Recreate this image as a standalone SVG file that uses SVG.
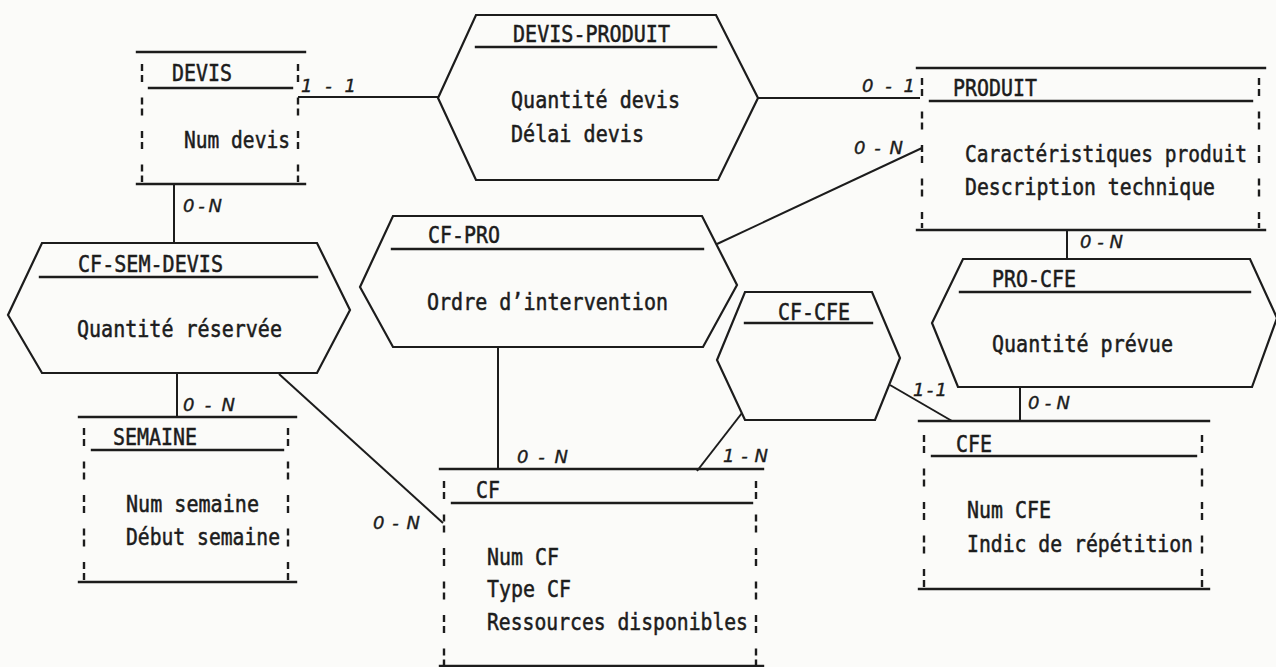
<svg xmlns="http://www.w3.org/2000/svg" width="1276" height="667" viewBox="0 0 1276 667">
<style>
.bg{fill:#fbfbf9}
.ln{stroke:#1c1c1c;stroke-width:2.4;fill:none;stroke-linecap:square}
.hx{stroke:#1c1c1c;stroke-width:2.2;fill:none;stroke-linejoin:miter}
.ds{stroke:#1c1c1c;stroke-width:2.4;fill:none;stroke-dasharray:7 4 7 15.5}
.cn{stroke:#1c1c1c;stroke-width:2;fill:none}
.t{font-family:"DejaVu Sans Mono","Liberation Mono",monospace;font-size:20px;fill:#1c1c1c;stroke:#1c1c1c;stroke-width:0.45}
.c{font-family:"DejaVu Sans","Liberation Sans",sans-serif;font-style:italic;font-size:18px;fill:#1c1c1c;stroke:#1c1c1c;stroke-width:0.4}
</style>
<rect class="bg" x="0" y="0" width="1276" height="667"/>

<g id="connectors">
<path class="cn" d="M298 97 H438"/>
<path class="cn" d="M758 98 H920"/>
<path class="cn" d="M174 184 V243"/>
<path class="cn" d="M177 373 V417"/>
<path class="cn" d="M279 374 L443 523"/>
<path class="cn" d="M498 347 V469"/>
<path class="cn" d="M717 244 L922 148"/>
<path class="cn" d="M742 413 L697 471"/>
<path class="cn" d="M890 385 L952 421"/>
<path class="cn" d="M1067 230 V259"/>
<path class="cn" d="M1020 388 V421"/>
<text class="c" x="301" y="92" textLength="55" lengthAdjust="spacing">1-1</text>
<text class="c" x="862" y="92" textLength="53" lengthAdjust="spacing">0-1</text>
<text class="c" x="183" y="212" textLength="39" lengthAdjust="spacing">0-N</text>
<text class="c" x="183" y="411" textLength="52" lengthAdjust="spacing">0-N</text>
<text class="c" x="373" y="529" textLength="47" lengthAdjust="spacing">0-N</text>
<text class="c" x="517" y="463" textLength="51" lengthAdjust="spacing">0-N</text>
<text class="c" x="854" y="154" textLength="49" lengthAdjust="spacing">0-N</text>
<text class="c" x="723" y="462" textLength="45" lengthAdjust="spacing">1-N</text>
<text class="c" x="913" y="396" textLength="34" lengthAdjust="spacing">1-1</text>
<text class="c" x="1080" y="248" textLength="43" lengthAdjust="spacing">0-N</text>
<text class="c" x="1028" y="409" textLength="42" lengthAdjust="spacing">0-N</text>
</g>

<g id="DEVIS">
<path class="ln" d="M137 52 H305 M149 88 H292 M137 184 H305"/>
<path class="ds" d="M142 64 V182 M298 64 V182"/>
<text class="t" x="172" y="81" transform="matrix(1 0 0 1.15 0 -12.15)" textLength="60" lengthAdjust="spacingAndGlyphs">DEVIS</text>
<text class="t" x="184" y="148" transform="matrix(1 0 0 1.15 0 -22.2)" textLength="106" lengthAdjust="spacingAndGlyphs">Num devis</text>
</g>

<g id="DEVIS-PRODUIT">
<polygon class="hx" points="476,15 716,15 758,98 718,180 476,180 438,98"/>
<path class="ln" d="M476 47 H716"/>
<text class="t" x="513" y="42" transform="matrix(1 0 0 1.15 0 -6.3)" textLength="157" lengthAdjust="spacingAndGlyphs">DEVIS-PRODUIT</text>
<text class="t" x="511" y="108" transform="matrix(1 0 0 1.15 0 -16.2)" textLength="169" lengthAdjust="spacingAndGlyphs">Quantité devis</text>
<text class="t" x="511" y="142" transform="matrix(1 0 0 1.15 0 -21.3)" textLength="133" lengthAdjust="spacingAndGlyphs">Délai devis</text>
</g>

<g id="PRODUIT">
<path class="ln" d="M917 68 H1265 M930 101 H1252 M917 230 H1265"/>
<path class="ds" d="M922 78 V228 M1259 78 V228"/>
<text class="t" x="953" y="96" transform="matrix(1 0 0 1.15 0 -14.4)" textLength="84" lengthAdjust="spacingAndGlyphs">PRODUIT</text>
<text class="t" x="965" y="162" transform="matrix(1 0 0 1.15 0 -24.3)" textLength="282" lengthAdjust="spacingAndGlyphs">Caractéristiques produit</text>
<text class="t" x="965" y="195" transform="matrix(1 0 0 1.15 0 -29.25)" textLength="250" lengthAdjust="spacingAndGlyphs">Description technique</text>
</g>

<g id="CF-SEM-DEVIS">
<polygon class="hx" points="42,243 317,243 350,310 317,373 42,373 8,315"/>
<path class="ln" d="M40 277 H317"/>
<text class="t" x="78" y="272" transform="matrix(1 0 0 1.15 0 -40.8)" textLength="145" lengthAdjust="spacingAndGlyphs">CF-SEM-DEVIS</text>
<text class="t" x="77" y="337" transform="matrix(1 0 0 1.15 0 -50.55)" textLength="205" lengthAdjust="spacingAndGlyphs">Quantité réservée</text>
</g>

<g id="CF-PRO">
<polygon class="hx" points="393,216 702,216 737,285 703,347 393,347 360,287"/>
<path class="ln" d="M392 249 H703"/>
<text class="t" x="428" y="243" transform="matrix(1 0 0 1.15 0 -36.45)" textLength="72" lengthAdjust="spacingAndGlyphs">CF-PRO</text>
<text class="t" x="427" y="310" transform="matrix(1 0 0 1.15 0 -46.5)" textLength="241" lengthAdjust="spacingAndGlyphs">Ordre d’intervention</text>
</g>

<g id="CF-CFE">
<polygon class="hx" points="745,292 872,292 900,358 875,420 745,420 717,360"/>
<path class="ln" d="M745 323 H872"/>
<text class="t" x="778" y="320" transform="matrix(1 0 0 1.15 0 -48)" textLength="72" lengthAdjust="spacingAndGlyphs">CF-CFE</text>
</g>

<g id="PRO-CFE">
<polygon class="hx" points="963,259 1250,259 1277,318 1252,387 958,387 932,323"/>
<path class="ln" d="M960 292 H1250"/>
<text class="t" x="992" y="287" transform="matrix(1 0 0 1.15 0 -43.05)" textLength="84" lengthAdjust="spacingAndGlyphs">PRO-CFE</text>
<text class="t" x="992" y="352" transform="matrix(1 0 0 1.15 0 -52.8)" textLength="181" lengthAdjust="spacingAndGlyphs">Quantité prévue</text>
</g>

<g id="SEMAINE">
<path class="ln" d="M79 417 H296 M92 450 H283 M79 582 H296"/>
<path class="ds" d="M84 428 V580 M288 428 V580"/>
<text class="t" x="113" y="445" transform="matrix(1 0 0 1.15 0 -66.75)" textLength="84" lengthAdjust="spacingAndGlyphs">SEMAINE</text>
<text class="t" x="126" y="512" transform="matrix(1 0 0 1.15 0 -76.8)" textLength="133" lengthAdjust="spacingAndGlyphs">Num semaine</text>
<text class="t" x="126" y="545" transform="matrix(1 0 0 1.15 0 -81.75)" textLength="154" lengthAdjust="spacingAndGlyphs">Début semaine</text>
</g>

<g id="CF">
<path class="ln" d="M440 469 H763 M452 503 H752 M440 666 H763"/>
<path class="ds" d="M444 481 V666 M756 481 V666"/>
<text class="t" x="476" y="498" transform="matrix(1 0 0 1.15 0 -74.7)" textLength="24" lengthAdjust="spacingAndGlyphs">CF</text>
<text class="t" x="487" y="565" transform="matrix(1 0 0 1.15 0 -84.75)" textLength="72" lengthAdjust="spacingAndGlyphs">Num CF</text>
<text class="t" x="487" y="597" transform="matrix(1 0 0 1.15 0 -89.55)" textLength="84" lengthAdjust="spacingAndGlyphs">Type CF</text>
<text class="t" x="487" y="630" transform="matrix(1 0 0 1.15 0 -94.5)" textLength="261" lengthAdjust="spacingAndGlyphs">Ressources disponibles</text>
</g>

<g id="CFE">
<path class="ln" d="M919 421 H1209 M932 456 H1196 M919 589 H1209"/>
<path class="ds" d="M924 435 V587 M1202 435 V587"/>
<text class="t" x="956" y="452" transform="matrix(1 0 0 1.15 0 -67.8)" textLength="36" lengthAdjust="spacingAndGlyphs">CFE</text>
<text class="t" x="967" y="518" transform="matrix(1 0 0 1.15 0 -77.7)" textLength="84" lengthAdjust="spacingAndGlyphs">Num CFE</text>
<text class="t" x="967" y="552" transform="matrix(1 0 0 1.15 0 -82.8)" textLength="226" lengthAdjust="spacingAndGlyphs">Indic de répétition</text>
</g>
</svg>
